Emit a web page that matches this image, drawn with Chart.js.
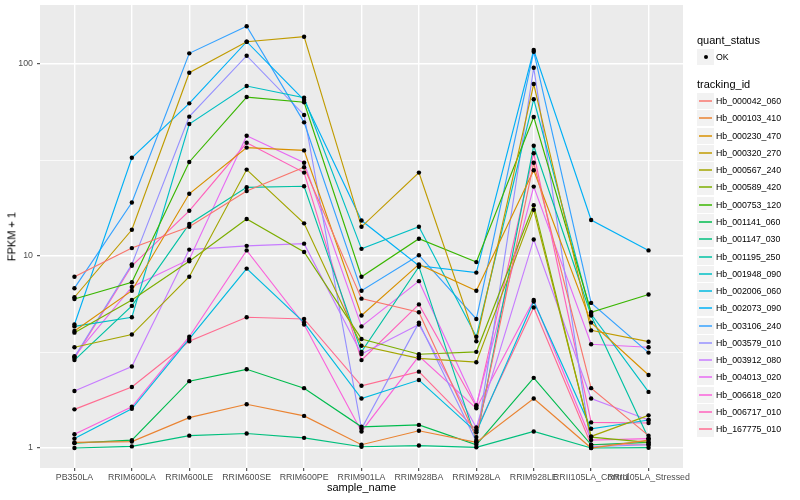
<!DOCTYPE html>
<html>
<head>
<meta charset="utf-8">
<script src="https://cdn.jsdelivr.net/npm/chart.js@4/dist/chart.umd.min.js"></script>
<style>
  html, body { margin: 0; padding: 0; background: #ffffff; }
  #wrap { position: relative; width: 800px; height: 500px; font-family: "Liberation Sans", Arial, sans-serif; }
  #c { position: absolute; left: 0; top: 0; }
  .t { position: absolute; white-space: nowrap; color: #000; }
  .key { position: absolute; background: #F2F2F2; }
  .kl { position: absolute; height: 2px; }
  .dot { position: absolute; width: 4px; height: 4px; border-radius: 50%; background: #000; }
</style>
</head>
<body>
<div id="wrap">
  <canvas id="c" width="800" height="500"></canvas>
</div>
<script>
// ---------- data ----------
const categories = ["PB350LA","RRIM600LA","RRIM600LE","RRIM600SE","RRIM600PE","RRIM901LA","RRIM928BA","RRIM928LA","RRIM928LE","RRII105LA_Control","RRII105LA_Stressed"];

const trackingIds = ["Hb_000042_060","Hb_000103_410","Hb_000230_470","Hb_000320_270","Hb_000567_240","Hb_000589_420","Hb_000753_120","Hb_001141_060","Hb_001147_030","Hb_001195_250","Hb_001948_090","Hb_002006_060","Hb_002073_090","Hb_003106_240","Hb_003579_010","Hb_003912_080","Hb_004013_020","Hb_006618_020","Hb_006717_010","Hb_167775_010"];

const seriesColors = ["#F8766D","#EA8331","#D89000","#C09B00","#A3A500","#7CAE00","#39B600","#00BB4E","#00BF7D","#00C1A3","#00BFC4","#00BAE0","#00B0F6","#35A2FF","#9590FF","#C77CFF","#E76BF3","#FA62DB","#FF62BC","#FF6C91"];

// FPKM + 1 values, one array per tracking id (order of categories)
const hb_000042_060 = [7.8, 11.0, 14.2, 21.8, 29.0, 6.0, 5.1, 1.14, 30.6, 2.05, 1.16];
const hb_000103_410 = [1.07, 1.08, 1.44, 1.69, 1.47, 1.04, 1.23, 1.07, 1.81, 1.0, 1.10];
const hb_000230_470 = [4.07, 6.6, 21.1, 36.7, 35.5, 4.9, 9.05, 6.6, 28.0, 4.5, 2.40];
const hb_000320_270 = [6.1, 13.7, 90.1, 130.7, 138.8, 14.2, 27.2, 3.6, 78.7, 4.1, 3.58];
const hb_000567_240 = [3.35, 3.9, 7.8, 28.2, 14.8, 3.41, 2.93, 2.80, 17.4, 1.15, 1.48];
const hb_000589_420 = [3.99, 5.9, 9.4, 15.6, 10.5, 3.7, 3.08, 3.17, 18.4, 1.14, 1.07];
const hb_000753_120 = [5.97, 7.3, 30.9, 67.3, 63.2, 7.8, 12.3, 9.3, 53.0, 5.1, 6.3];
const hb_001141_060 = [1.06, 1.10, 2.23, 2.57, 2.05, 1.29, 1.32, 1.04, 2.32, 1.04, 1.07];
const hb_001147_030 = [1.0, 1.02, 1.16, 1.19, 1.13, 1.016, 1.03, 1.008, 1.22, 1.0, 1.004];
const hb_001195_250 = [2.87, 5.5, 14.7, 22.8, 23.1, 3.17, 8.8, 1.10, 37.5, 4.9, 1.12];
const hb_001948_090 = [4.3, 4.8, 48.7, 76.8, 66.8, 10.9, 14.2, 3.8, 65.5, 4.99, 1.96];
const hb_002006_060 = [1.12, 1.60, 3.7, 8.6, 4.5, 1.81, 2.26, 1.21, 5.8, 1.26, 1.40];
const hb_002073_090 = [4.4, 32.5, 62.4, 130.7, 64.9, 15.3, 8.9, 8.2, 118.3, 15.4, 10.7];
const hb_003106_240 = [6.8, 19.0, 113.7, 157.2, 49.7, 6.6, 10.1, 4.7, 115.9, 5.7, 3.14];
const hb_003579_010 = [2.98, 9.05, 53.2, 110.5, 54.3, 1.26, 4.5, 1.08, 95.7, 1.016, 1.04];
const hb_003912_080 = [1.98, 2.66, 10.8, 11.3, 11.6, 3.09, 4.4, 1.28, 12.2, 1.81, 1.40];
const hb_004013_020 = [3.01, 6.9, 9.6, 42.3, 30.6, 4.3, 7.4, 1.67, 23.0, 3.47, 3.35];
const hb_006618_020 = [1.18, 1.64, 3.8, 10.7, 4.4, 1.22, 3.01, 1.61, 5.9, 1.10, 1.12];
const hb_006717_010 = [2.94, 8.9, 17.2, 38.9, 27.2, 2.87, 5.6, 1.64, 34.3, 1.36, 1.35];
const hb_167775_010 = [1.59, 2.08, 3.6, 4.8, 4.7, 2.11, 2.50, 1.24, 5.4, 1.04, 1.04];

const seriesValues = [hb_000042_060, hb_000103_410, hb_000230_470, hb_000320_270, hb_000567_240, hb_000589_420, hb_000753_120, hb_001141_060, hb_001147_030, hb_001195_250, hb_001948_090, hb_002006_060, hb_002073_090, hb_003106_240, hb_003579_010, hb_003912_080, hb_004013_020, hb_006618_020, hb_006717_010, hb_167775_010];

const yMajorTicks = [1, 10, 100];
const yMinorTicks = [3.1623, 31.623];
const yRange = [0.787, 203];

// ---------- chart ----------
const FONT = '"Liberation Sans", Arial, sans-serif';
const datasets = [];
seriesValues.forEach((vals, i) => {
  const pts = vals.map((v, j) => ({ x: j, y: v }));
  datasets.push({
    label: trackingIds[i], data: pts, borderColor: seriesColors[i],
    borderWidth: 1.15, pointRadius: 0, fill: false, tension: 0, order: 2
  });
});
seriesValues.forEach((vals, i) => {
  const pts = vals.map((v, j) => ({ x: j, y: v }));
  datasets.push({
    label: trackingIds[i] + ' pts', data: pts, showLine: false,
    pointRadius: 2.2, pointBackgroundColor: '#000000', pointBorderWidth: 0,
    pointHoverRadius: 2.2, order: 1
  });
});

const panelBg = {
  id: 'panelBg',
  beforeDraw(chart) {
    const a = chart.chartArea, ctx = chart.ctx;
    ctx.save();
    ctx.fillStyle = '#EBEBEB';
    ctx.fillRect(a.left, a.top, a.right - a.left, a.bottom - a.top);
    ctx.restore();
  }
};

const isMajor = v => yMajorTicks.some(m => Math.abs(m - v) < 1e-6);

new Chart(document.getElementById('c'), {
  type: 'line',
  data: { datasets },
  plugins: [panelBg],
  options: {
    responsive: false,
    animation: false,
    devicePixelRatio: 1,
    layout: { padding: { left: 0, right: 117, top: 5, bottom: 0 } },
    plugins: { legend: { display: false }, tooltip: { enabled: false } },
    events: [],
    scales: {
      x: {
        type: 'linear', min: -0.6, max: categories.length - 1 + 0.6,
        afterBuildTicks(scale) { scale.ticks = categories.map((c, i) => ({ value: i })); },
        afterFit(scale) {
          scale.height = 32;
          scale.paddingLeft = 0; scale.paddingRight = 0; scale.paddingTop = 0; scale.paddingBottom = 0;
        },
        border: { display: false },
        grid: { color: '#FFFFFF', lineWidth: 1.4, tickLength: 3, tickColor: '#333333', tickWidth: 1 },
        ticks: {
          autoSkip: false, maxRotation: 0, minRotation: 0, padding: 1,
          color: '#4D4D4D', font: { family: FONT, size: 8.8 },
          callback: (v) => categories[Math.round(v)]
        }
      },
      y: {
        type: 'logarithmic', min: yRange[0], max: yRange[1],
        afterBuildTicks(scale) {
          scale.ticks = yMajorTicks.concat(yMinorTicks).sort((a, b) => a - b).map(v => ({ value: v }));
        },
        afterFit(scale) {
          scale.width = 40;
          scale.paddingLeft = 0; scale.paddingRight = 0; scale.paddingTop = 0; scale.paddingBottom = 0;
        },
        border: { display: false },
        grid: {
          color: '#FFFFFF',
          lineWidth: ctx => (ctx.tick && isMajor(ctx.tick.value)) ? 1.4 : 0.7,
          tickLength: 3,
          tickColor: ctx => (ctx.tick && isMajor(ctx.tick.value)) ? '#333333' : 'rgba(0,0,0,0)',
          tickWidth: 1
        },
        ticks: {
          padding: 4, color: '#4D4D4D', font: { family: FONT, size: 8.8 },
          callback: (v) => isMajor(v) ? String(v) : ''
        }
      }
    }
  }
});

// ---------- titles & legend (HTML text) ----------
const wrap = document.getElementById('wrap');
function addText(txt, left, cy, size, extra) {
  const d = document.createElement('div');
  d.className = 't';
  d.textContent = txt;
  d.style.left = left + 'px';
  d.style.top = (cy - size * 0.6) + 'px';
  d.style.height = (size * 1.2) + 'px';
  d.style.lineHeight = (size * 1.2) + 'px';
  d.style.fontSize = size + 'px';
  if (extra) Object.assign(d.style, extra);
  wrap.appendChild(d);
  return d;
}
// x axis title
addText('sample_name', 361.5, 488, 11, { transform: 'translateX(-50%)' });
// y axis title (rotated)
addText('FPKM + 1', 12, 236.5, 11, { transform: 'translateX(-50%) rotate(-90deg)', transformOrigin: '50% 50%' });

// legend: quant_status
addText('quant_status', 697, 40.7, 11);
(function () {
  const k = document.createElement('div');
  k.className = 'key';
  k.style.left = '697px'; k.style.top = '49px'; k.style.width = '17px'; k.style.height = '16px';
  wrap.appendChild(k);
  const d = document.createElement('div');
  d.className = 'dot';
  d.style.left = '703.5px'; d.style.top = '55px';
  wrap.appendChild(d);
  addText('OK', 716, 57, 8.8);
})();

// legend: tracking_id
addText('tracking_id', 697, 84.3, 11);
const rowH = 17.28, firstTop = 93;
trackingIds.forEach((id, i) => {
  const top = Math.round(firstTop + i * rowH);
  const k = document.createElement('div');
  k.className = 'key';
  k.style.left = '697px'; k.style.top = top + 'px'; k.style.width = '17px'; k.style.height = '16px';
  wrap.appendChild(k);
  const l = document.createElement('div');
  l.className = 'kl';
  l.style.left = '699px'; l.style.width = '13px';
  l.style.top = (top + 7) + 'px';
  l.style.background = seriesColors[i];
  l.style.opacity = '0.75';
  wrap.appendChild(l);
  addText(id, 716, top + 8, 8.8);
});
</script>
</body>
</html>
